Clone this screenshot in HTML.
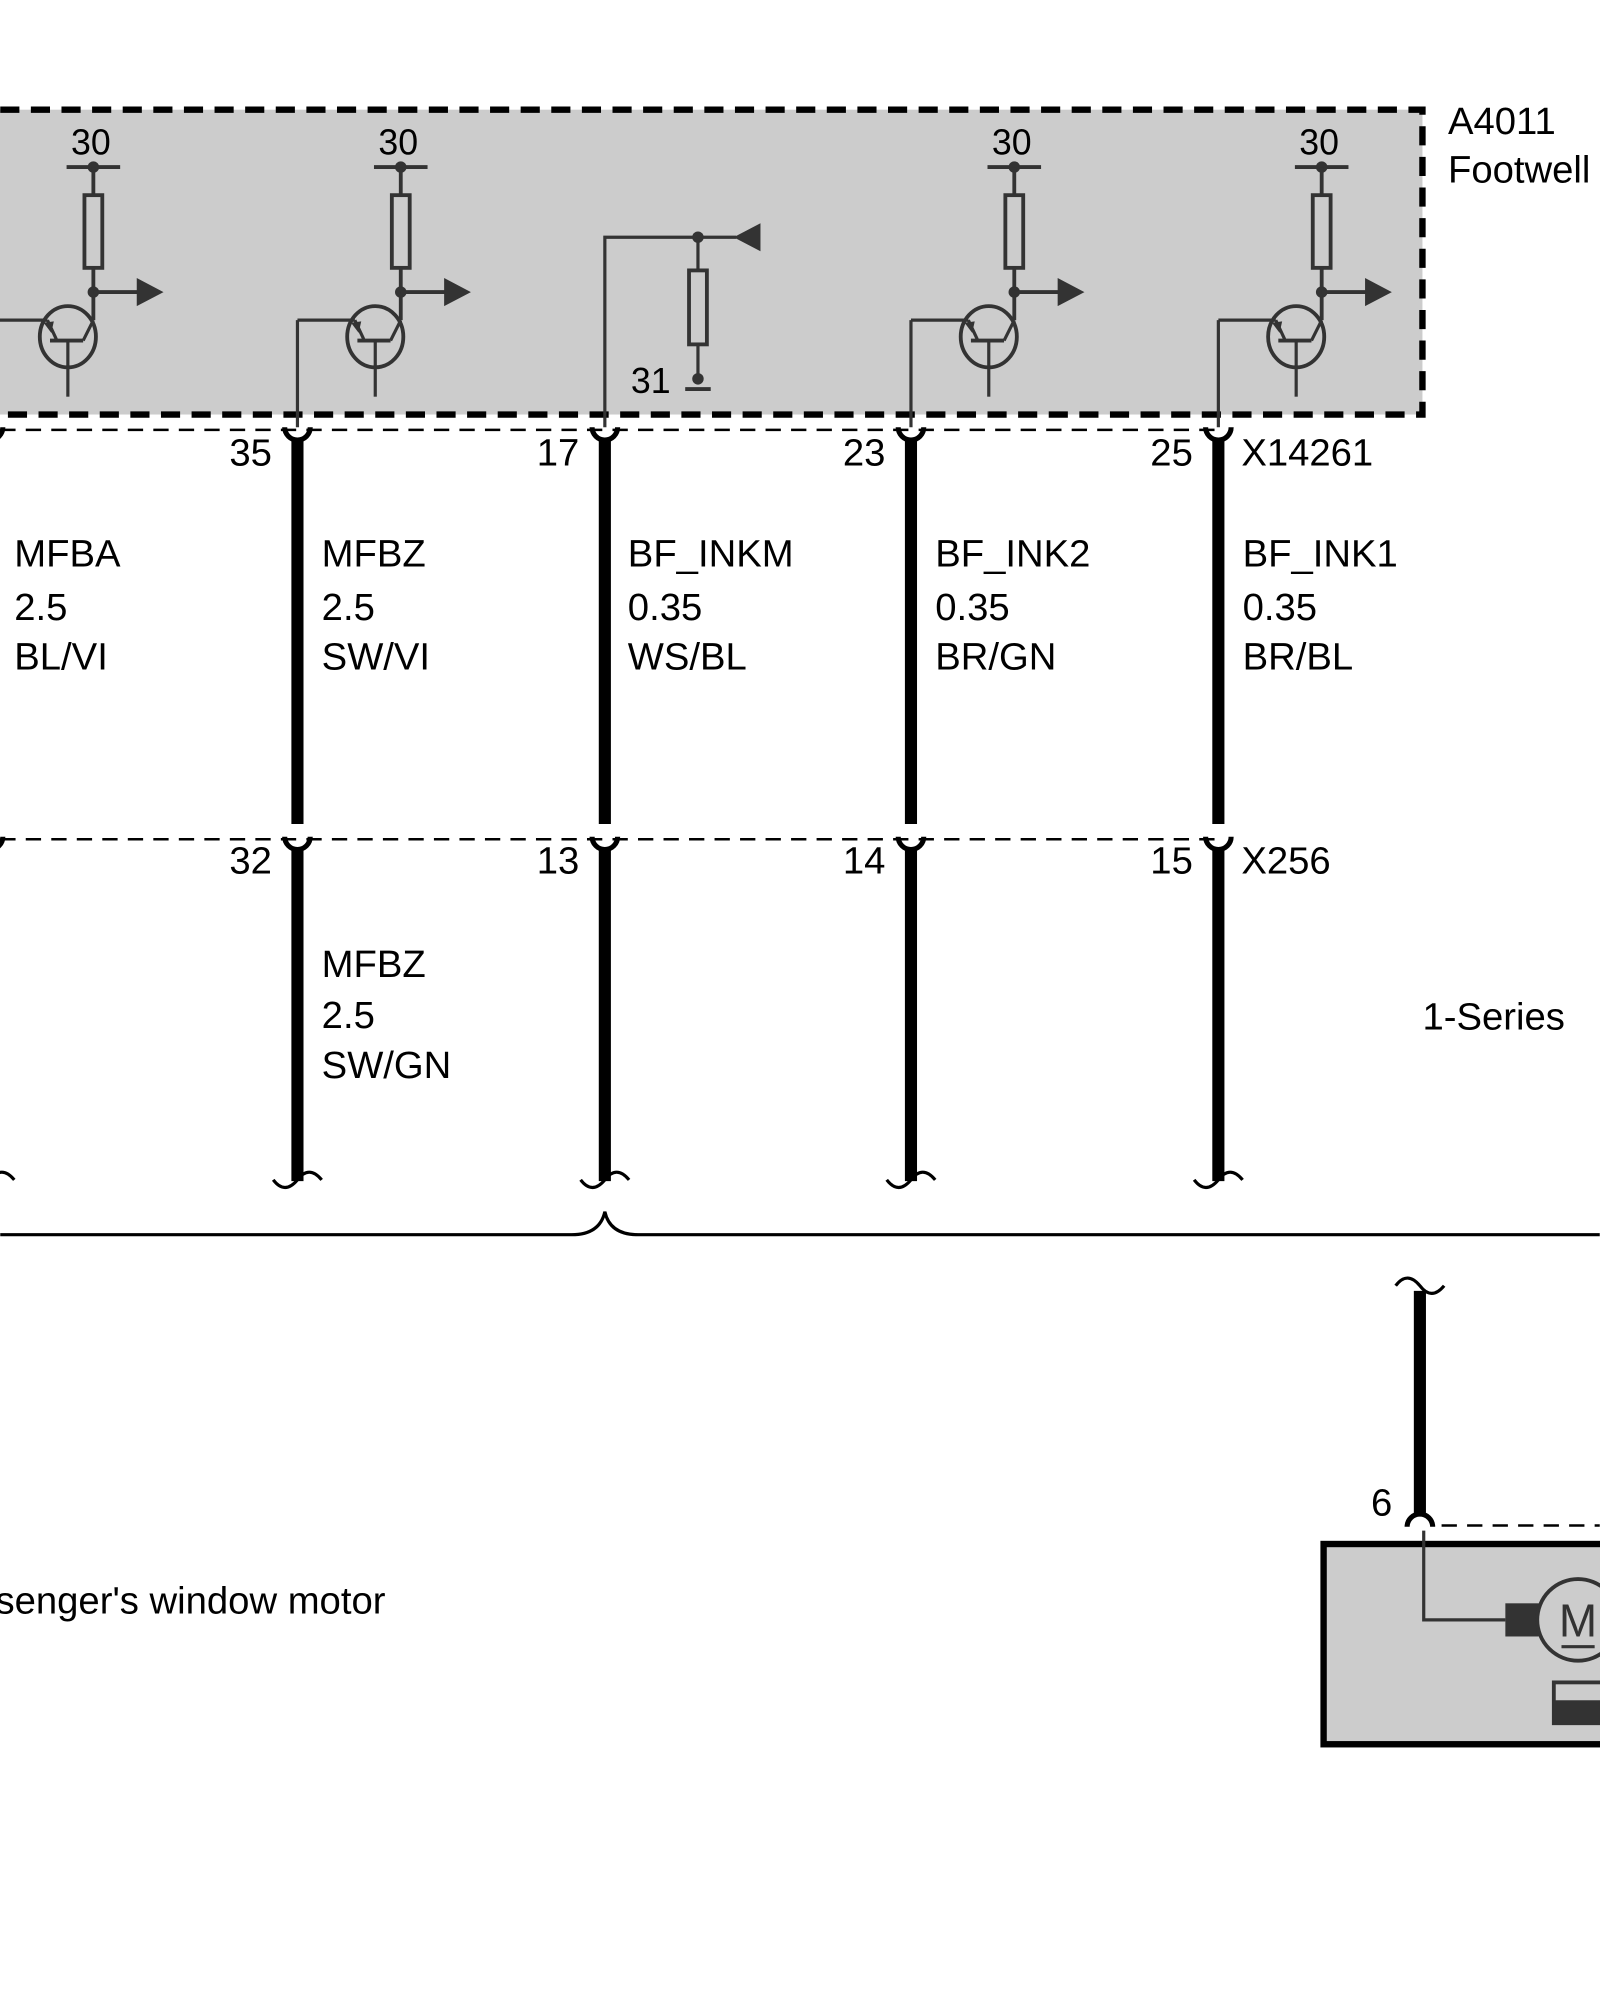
<!DOCTYPE html>
<html><head><meta charset="utf-8"><style>
html,body{margin:0;padding:0;background:#fff;}
svg{display:block;}
text{font-family:"Liberation Sans",Arial,sans-serif;fill:#000;}
</style></head><body>
<svg width="1600" height="2000" viewBox="0 0 1254 1568" xmlns="http://www.w3.org/2000/svg">
<defs>
<g id="stage">
  <text x="-2" y="121" font-size="28" text-anchor="middle">30</text>
  <line x1="-21" y1="131" x2="21" y2="131" stroke="#333" stroke-width="3"/>
  <circle cx="0" cy="131" r="4.5" fill="#333"/>
  <line x1="0" y1="131" x2="0" y2="153" stroke="#333" stroke-width="3"/>
  <rect x="-7" y="153" width="14" height="57" fill="none" stroke="#333" stroke-width="3"/>
  <line x1="0" y1="210" x2="0" y2="251" stroke="#333" stroke-width="3"/>
  <circle cx="0" cy="229" r="4.5" fill="#333"/>
  <line x1="0" y1="229" x2="36" y2="229" stroke="#333" stroke-width="3"/>
  <polygon points="34,218 55,229 34,240" fill="#333"/>
  <ellipse cx="-20" cy="264" rx="22" ry="24" fill="none" stroke="#333" stroke-width="3"/>
  <line x1="-81" y1="251" x2="-36" y2="251" stroke="#333" stroke-width="2.5"/>
  <line x1="-36" y1="251" x2="-29" y2="266" stroke="#333" stroke-width="2.5"/>
  <polygon points="-39,253 -31,252 -33,261" fill="#333"/>
  <line x1="-34" y1="267" x2="-8" y2="267" stroke="#333" stroke-width="3"/>
  <line x1="-8" y1="267" x2="0" y2="251" stroke="#333" stroke-width="2.5"/>
  <line x1="-20" y1="267" x2="-20" y2="311" stroke="#333" stroke-width="2.5"/>
  <line x1="-81" y1="251" x2="-81" y2="335" stroke="#333" stroke-width="2.5"/>
</g>
<g id="cupTop"><path d="M-10,335 A10,10 0 0 0 10,335" fill="none" stroke="#000" stroke-width="4"/></g>
<g id="tilde"><path d="M-19,925 q9,12 19,0 q9,-12 19,0" fill="none" stroke="#000" stroke-width="2.5"/></g>
</defs>

<rect x="-10" y="86" width="1125" height="239" fill="#cccccc"/>
<path d="M0,86 H1115 V325 H0" fill="none" stroke="#000" stroke-width="5" stroke-dasharray="15,9"/>
<text x="1135" y="105" font-size="30">A4011</text>
<text x="1135" y="143" font-size="30">Footwell</text>

<use href="#stage" x="73" y="0"/>
<use href="#stage" x="314" y="0"/>
<use href="#stage" x="795" y="0"/>
<use href="#stage" x="1036" y="0"/>

<g stroke="#333" stroke-width="2.5" fill="none">
<polyline points="474,335 474,186 577,186"/>
<line x1="547" y1="186" x2="547" y2="212"/>
<rect x="540" y="212" width="14" height="58" stroke-width="3"/>
<line x1="547" y1="270" x2="547" y2="297"/>
<line x1="537" y1="305" x2="557" y2="305" stroke-width="3"/>
</g>
<circle cx="547" cy="186" r="4.5" fill="#333"/>
<polygon points="575,186 596,175 596,197" fill="#333"/>
<circle cx="547" cy="297" r="4.5" fill="#333"/>
<text x="510" y="308" font-size="28" text-anchor="middle">31</text>

<line x1="0" y1="337" x2="960" y2="337" stroke="#000" stroke-width="2" stroke-dasharray="12,8"/>
<line x1="0" y1="658" x2="960" y2="658" stroke="#000" stroke-width="2" stroke-dasharray="12,8"/>

<g stroke="#000" stroke-width="9.5">
<line x1="233" y1="343" x2="233" y2="646"/><line x1="474" y1="343" x2="474" y2="646"/>
<line x1="714" y1="343" x2="714" y2="646"/><line x1="955" y1="343" x2="955" y2="646"/>
<line x1="233" y1="664" x2="233" y2="926"/><line x1="474" y1="664" x2="474" y2="926"/>
<line x1="714" y1="664" x2="714" y2="926"/><line x1="955" y1="664" x2="955" y2="926"/>
<line x1="1113" y1="1012" x2="1113" y2="1186"/>
</g>
<g>
<use href="#cupTop" x="-8"/><use href="#cupTop" x="233"/><use href="#cupTop" x="474"/><use href="#cupTop" x="714"/><use href="#cupTop" x="955"/>
<use href="#cupTop" x="-8" y="321"/><use href="#cupTop" x="233" y="321"/><use href="#cupTop" x="474" y="321"/><use href="#cupTop" x="714" y="321"/><use href="#cupTop" x="955" y="321"/>
<use href="#tilde" x="-8"/><use href="#tilde" x="233"/><use href="#tilde" x="474"/><use href="#tilde" x="714"/><use href="#tilde" x="955"/>
</g>

<g font-size="30">
<text x="213" y="365" text-anchor="end">35</text>
<text x="454" y="365" text-anchor="end">17</text>
<text x="694" y="365" text-anchor="end">23</text>
<text x="935" y="365" text-anchor="end">25</text>
<text x="973" y="365">X14261</text>
<text x="213" y="685" text-anchor="end">32</text>
<text x="454" y="685" text-anchor="end">13</text>
<text x="694" y="685" text-anchor="end">14</text>
<text x="935" y="685" text-anchor="end">15</text>
<text x="973" y="685">X256</text>

<text x="11" y="444">MFBA</text><text x="11" y="486">2.5</text><text x="11" y="525">BL/VI</text>
<text x="252" y="444">MFBZ</text><text x="252" y="486">2.5</text><text x="252" y="525">SW/VI</text>
<text x="492" y="444">BF_INKM</text><text x="492" y="486">0.35</text><text x="492" y="525">WS/BL</text>
<text x="733" y="444">BF_INK2</text><text x="733" y="486">0.35</text><text x="733" y="525">BR/GN</text>
<text x="974" y="444">BF_INK1</text><text x="974" y="486">0.35</text><text x="974" y="525">BR/BL</text>
<text x="252" y="766">MFBZ</text><text x="252" y="806">2.5</text><text x="252" y="845">SW/GN</text>
<text x="1115" y="807">1-Series</text>
<text x="302" y="1265" text-anchor="end">Passenger's window motor</text>
<text x="1083" y="1188" text-anchor="middle">6</text>
</g>

<path d="M0,968 H448 Q470,968 474,950 Q478,968 500,968 H1254" fill="none" stroke="#000" stroke-width="2.5"/>

<path d="M1094,1008 q9,-12 19,0 q9,12 19,0" fill="none" stroke="#000" stroke-width="2.5"/>
<path d="M1103,1197 A10,10 0 0 1 1123,1197" fill="none" stroke="#000" stroke-width="4"/>
<line x1="1130" y1="1196" x2="1254" y2="1196" stroke="#000" stroke-width="2" stroke-dasharray="12,8"/>
<rect x="1037.5" y="1210.5" width="230" height="157" fill="#cccccc" stroke="#000" stroke-width="5"/>
<polyline points="1116,1200 1116,1270 1180,1270" fill="none" stroke="#333" stroke-width="2.5"/>
<rect x="1180" y="1257" width="26" height="26" fill="#333"/>
<circle cx="1237" cy="1270" r="32" fill="#ccc" stroke="#333" stroke-width="3"/>
<text x="1237" y="1283" font-size="36" text-anchor="middle" style="fill:#333">M</text>
<line x1="1224" y1="1291" x2="1250" y2="1291" stroke="#333" stroke-width="2.5"/>
<rect x="1218" y="1319" width="40" height="32" fill="#ccc" stroke="#333" stroke-width="3"/>
<rect x="1218" y="1333" width="40" height="18" fill="#333"/>
</svg>
</body></html>
